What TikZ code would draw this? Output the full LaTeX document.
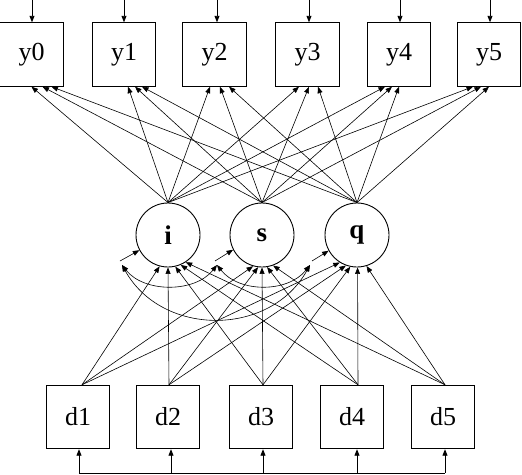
\documentclass[tikz,border=0pt]{standalone}
\usepackage{fontspec}
\setmainfont{Liberation Serif}
\usetikzlibrary{arrows.meta,calc}
\begin{document}
\begin{tikzpicture}[x=1pt,y=-1pt,
  obs/.style={draw,line width=0.9pt,minimum width=63.5pt,minimum height=63.5pt,inner sep=0pt,font=\fontsize{26}{26}\selectfont},
  lat/.style={draw,circle,line width=0.9pt,minimum size=64pt,inner sep=0pt,font=\bfseries\fontsize{27}{27}\selectfont},
  tip/.style={-{Triangle[length=6.5pt,width=5pt]}},
  edge/.style={line width=0.6pt,tip},
  vedge/.style={line width=0.9pt,tip},
  cov/.style={line width=0.6pt,{Triangle[length=6.5pt,width=5pt]}-{Triangle[length=6.5pt,width=5pt]}}]
\useasboundingbox (0,0) rectangle (522,474);

% observed outcomes
\node[obs] (y0) at (31.5,54.5) {y0};
\node[obs] (y1) at (124,54.5) {y1};
\node[obs] (y2) at (214.5,54.5) {y2};
\node[obs] (y3) at (307.5,54.5) {y3};
\node[obs] (y4) at (399,54.5) {y4};
\node[obs] (y5) at (489,54.5) {y5};

% latent factors
\node[lat] (i) at (168,235) {i};
\node[lat] (s) at (262,235) {s};
\node[lat] (q) at (357,235) {q};

% covariates
\node[obs] (d1) at (78,417) {d1};
\node[obs] (d2) at (168,417) {d2};
\node[obs] (d3) at (261,417) {d3};
\node[obs] (d4) at (352,417) {d4};
\node[obs] (d5) at (443,417) {d5};

% top residual arrows
\foreach \n/\x in {y0/32,y1/124,y2/217,y3/309,y4/400,y5/490}{
  \coordinate (t\n) at (\x,0);
  \draw[vedge] (t\n) -- (t\n |- \n.north);
}

% loadings
\foreach \n/\o in {y0/0,y1/4,y2/-4.5,y3/-8.5,y4/-14,y5/-16}
  \draw[edge] (i.north) -- ($(\n.south)+(\o,0)$);
\foreach \n/\o in {y0/11,y1/11,y2/5.5,y3/1.5,y4/-7,y5/-8}
  \draw[edge] (s.north) -- ($(\n.south)+(\o,0)$);
\foreach \n/\o in {y0/20,y1/18,y2/14.5,y3/10.5,y4/0,y5/0}
  \draw[edge] (q.north) -- ($(\n.south)+(\o,0)$);

% regressions on covariates
\foreach \n/\o/\a/\b/\c in {d1/4/255/254/238,d2/1/270/263/250,d3/2/283/270/258,d4/6/293/279/271,d5/2/303/290/287}{
  \draw[edge] ($(\n.north)+(\o,0)$) -- (i.\a);
  \draw[edge] ($(\n.north)+(\o,0)$) -- (s.\b);
  \draw[edge] ($(\n.north)+(\o,0)$) -- (q.\c);
}

% latent residuals
\coordinate (ri) at (120,261);
\coordinate (rs) at (215,261);
\coordinate (rq) at (312,261);
\draw[edge] (ri) -- (i.208);
\draw[edge] (rs) -- (s.207);
\draw[edge] (rq) -- (q.209);

% residual covariances
\coordinate (ai) at (122,265);
\coordinate (as) at (217,265);
\coordinate (aq) at (310,265);
\draw[cov] (ai) .. controls +(22,28) and +(-22,28) .. (as);
\draw[cov] (as) .. controls +(22,28) and +(-22,28) .. (aq);
\draw[cov] (ai) .. controls +(40,72) and +(-40,72) .. (aq);

% covariate bus
\foreach \n/\x in {d1/79,d2/171,d3/263,d4/357,d5/445}{
  \coordinate (b\n) at (\x,473);
  \draw[vedge] (b\n) -- (b\n |- \n.south);
}
\draw[line width=0.9pt] (bd1) -- (bd5);
\end{tikzpicture}
\end{document}
